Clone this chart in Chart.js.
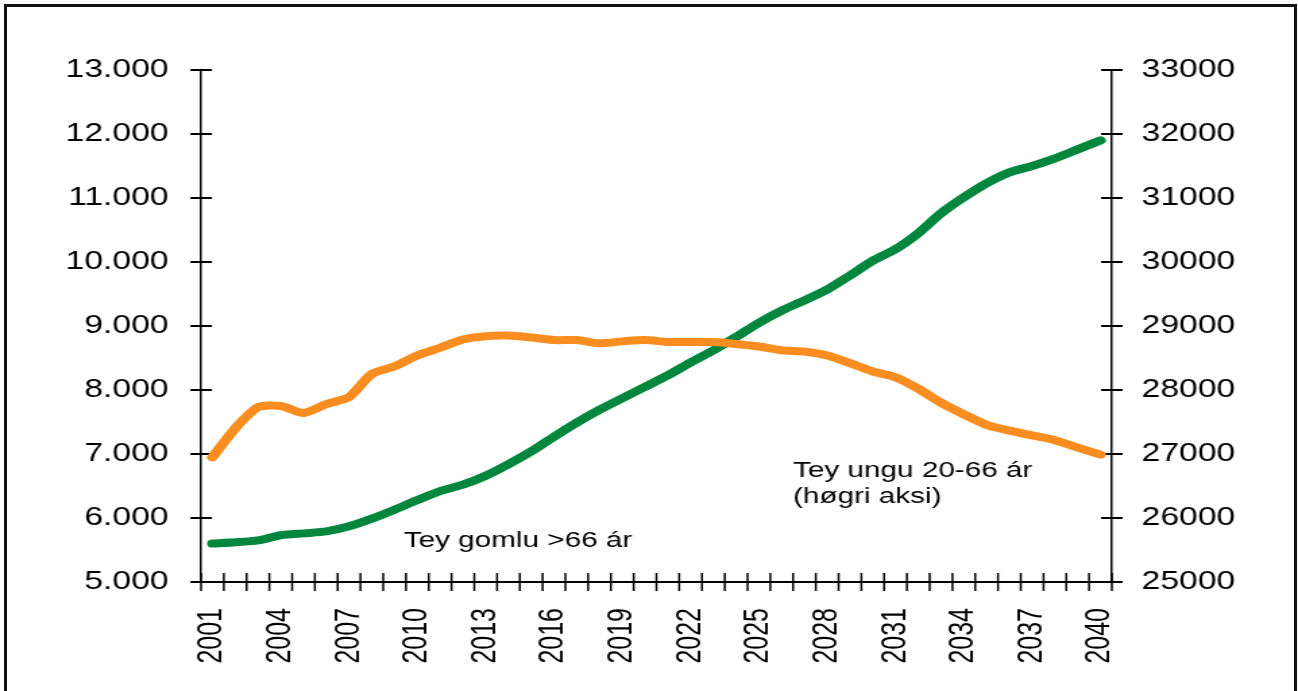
<!DOCTYPE html>
<html>
<head>
<meta charset="utf-8">
<script src="https://cdn.jsdelivr.net/npm/chart.js@4/dist/chart.umd.min.js"></script>
<style>
  html, body { margin: 0; padding: 0; background: #fff; overflow: hidden; }
  #frame { position: absolute; left: 4px; top: 4px; width: 1287px; height: 720px; border: 3px solid #111; box-sizing: content-box; }
  /* the source picture is stretched sideways, so the canvas is too */
  #c { position: absolute; left: 0; top: 0; transform: scaleX(1.3493); transform-origin: 0 0; }
</style>
</head>
<body>
<div id="frame"></div>
<canvas id="c" width="962" height="691"></canvas>
<script>
// years on the x axis
const years = [];
for (let y = 2001; y <= 2040; y++) years.push(String(y));

// Tey gomlu >66 ár (left axis)
const older = [5600, 5620, 5650, 5730, 5760, 5790, 5870, 5990, 6130, 6280,
               6420, 6520, 6660, 6840, 7040, 7270, 7490, 7690, 7870, 8050,
               8230, 8430, 8620, 8830, 9050, 9240, 9400, 9570, 9790, 10020,
               10200, 10450, 10760, 11010, 11230, 11400, 11500, 11620, 11760, 11900];

// Tey ungu 20-66 ár (right axis)
const younger = [26950, 27400, 27730, 27750, 27640, 27780, 27890, 28250, 28370, 28540,
                 28660, 28790, 28840, 28850, 28820, 28780, 28780, 28730, 28760, 28780,
                 28750, 28750, 28750, 28720, 28680, 28620, 28600, 28540, 28420, 28290,
                 28200, 28020, 27800, 27620, 27455, 27365, 27290, 27215, 27100, 26990];

const leftTicks = [5000, 6000, 7000, 8000, 9000, 10000, 11000, 12000, 13000];
const rightTicks = [25000, 26000, 27000, 28000, 29000, 30000, 31000, 32000, 33000];
const yearLabelStep = 3;

const font = 'Liberation Sans, Arial, sans-serif';

function dotted(v) {
    return String(v).replace(/\B(?=(\d{3})+(?!\d))/g, '.');
}

// small tick marks that cross each axis
const crossTicks = {
    id: 'crossTicks',
    beforeDatasetsDraw(chart) {
        const {ctx, scales: {x, yL, yR}} = chart;
        ctx.save();
        ctx.strokeStyle = '#000';
        ctx.lineWidth = 1.5;
        ctx.beginPath();
        const step = x.width / years.length;
        for (let i = 0; i <= years.length; i++) {
            const px = x.left + i * step;
            ctx.moveTo(px, x.top - 9);
            ctx.lineTo(px, x.top + 9);
        }
        ctx.stroke();
        ctx.lineWidth = 2;
        ctx.beginPath();
        yL.ticks.forEach(t => {
            const py = yL.getPixelForValue(t.value);
            ctx.moveTo(yL.right - 8, py);
            ctx.lineTo(yL.right + 8, py);
        });
        yR.ticks.forEach(t => {
            const py = yR.getPixelForValue(t.value);
            ctx.moveTo(yR.left - 8, py);
            ctx.lineTo(yR.left + 8, py);
        });
        ctx.stroke();
        ctx.restore();
    }
};

// text labels next to the lines
const notes = [
    {lines: ['Tey gomlu >66 ár'], at: 8.4, value: 5547, axis: 'yL'},
    {lines: ['Tey ungu 20-66 ár', '(høgri aksi)'], at: 25.5, value: 26640, axis: 'yR'}
];

const lineNotes = {
    id: 'lineNotes',
    afterDatasetsDraw(chart) {
        const {ctx, scales} = chart;
        ctx.save();
        ctx.fillStyle = '#000';
        ctx.font = '22px ' + font;
        ctx.textAlign = 'left';
        ctx.textBaseline = 'alphabetic';
        notes.forEach(n => {
            const px = scales.x.getPixelForValue(n.at);
            const py = scales[n.axis].getPixelForValue(n.value);
            n.lines.forEach((t, i) => ctx.fillText(t, px, py + i * 26));
        });
        ctx.restore();
    }
};

new Chart(document.getElementById('c'), {
    type: 'line',
    data: {
        labels: years,
        datasets: [{
            label: 'Tey gomlu >66 ár',
            data: older,
            yAxisID: 'yL',
            borderColor: '#00873D',
            borderWidth: 8,
            borderCapStyle: 'round',
            borderJoinStyle: 'round',
            tension: 0.25,
            pointRadius: 0,
            order: 1
        }, {
            label: 'Tey ungu 20-66 ár',
            data: younger,
            yAxisID: 'yR',
            borderColor: '#F98D20',
            borderWidth: 8,
            borderCapStyle: 'round',
            borderJoinStyle: 'round',
            tension: 0.25,
            pointRadius: 0,
            order: 0
        }]
    },
    options: {
        responsive: false,
        animation: false,
        layout: { padding: { top: 70, left: 0, right: 0, bottom: 0 } },
        plugins: {
            legend: { display: false },
            tooltip: { enabled: false }
        },
        scales: {
            x: {
                offset: true,
                grid: { display: false, drawTicks: false },
                border: { display: true, color: '#000', width: 2 },
                afterFit(s) { s.height = 109; },
                ticks: {
                    autoSkip: false,
                    maxRotation: 90,
                    minRotation: 90,
                    padding: 26,
                    color: '#000',
                    font: { family: font, size: 25 },
                    callback(v, i) { return i % yearLabelStep === 0 ? years[i] : ''; }
                }
            },
            yL: {
                position: 'left',
                min: leftTicks[0],
                max: leftTicks[leftTicks.length - 1],
                afterBuildTicks(s) { s.ticks = leftTicks.map(v => ({value: v})); },
                afterFit(s) { s.width = 149; },
                grid: { display: false, drawTicks: false },
                border: { display: true, color: '#000', width: 1.5 },
                ticks: {
                    padding: 24,
                    color: '#000',
                    font: { family: font, size: 25 },
                    callback: v => dotted(v)
                }
            },
            yR: {
                position: 'right',
                min: rightTicks[0],
                max: rightTicks[rightTicks.length - 1],
                afterBuildTicks(s) { s.ticks = rightTicks.map(v => ({value: v})); },
                afterFit(s) { s.width = 138; },
                grid: { display: false, drawTicks: false },
                border: { display: true, color: '#000', width: 1.5 },
                ticks: {
                    padding: 22,
                    color: '#000',
                    font: { family: font, size: 25 },
                    callback: v => String(v)
                }
            }
        }
    },
    plugins: [crossTicks, lineNotes]
});
</script>
</body>
</html>
